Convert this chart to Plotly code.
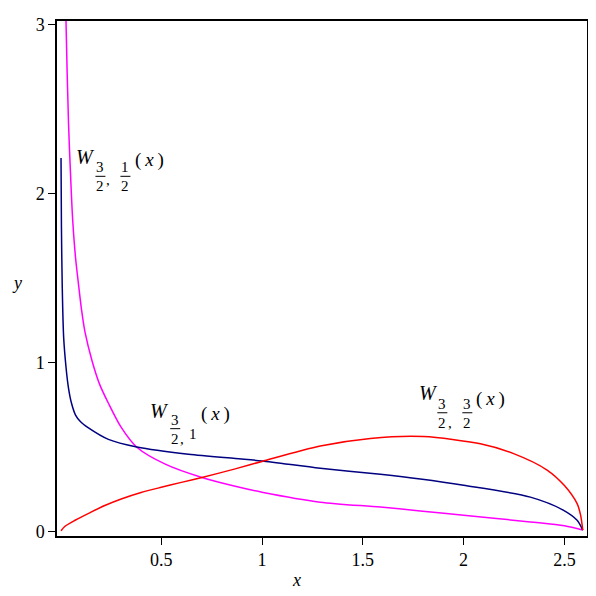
import plotly.graph_objects as go

# values
x_w12 = [0.022, 0.028, 0.04, 0.052, 0.061, 0.075, 0.089, 0.105, 0.122, 0.157, 0.195, 0.238,
         0.3, 0.379, 0.52, 0.702, 0.867, 1.0, 1.289, 1.587, 1.785, 2.0, 2.331, 2.5, 2.591]
y_w12 = [3.5, 3.0, 2.42, 2.06, 1.84, 1.62, 1.47, 1.31, 1.18, 1.01, 0.87, 0.76,
         0.62, 0.50, 0.40, 0.321, 0.269, 0.234, 0.175, 0.146, 0.123, 0.098, 0.058, 0.035, 0.01]

x_w1 = [0.003, 0.005, 0.009, 0.016, 0.028, 0.04, 0.055, 0.075, 0.10, 0.139, 0.238, 0.379, 0.635,
        0.867, 1.0, 1.289, 1.587, 1.785, 2.0, 2.331, 2.496, 2.563, 2.591]
y_w1 = [2.21, 1.8, 1.45, 1.15, 0.97, 0.85, 0.76, 0.69, 0.65, 0.614, 0.546, 0.501, 0.458,
        0.433, 0.419, 0.376, 0.34, 0.312, 0.275, 0.205, 0.127, 0.068, 0.01]

x_w32 = [0.003, 0.02, 0.073, 0.15, 0.22, 0.305, 0.4, 0.5, 0.6, 0.702, 0.867, 1.0, 1.289,
         1.537, 1.8, 2.083, 2.248, 2.414, 2.5, 2.563, 2.58, 2.591]
y_w32 = [0.006, 0.03, 0.068, 0.115, 0.155, 0.195, 0.232, 0.263, 0.292, 0.321, 0.372, 0.416, 0.507,
         0.552, 0.563, 0.52, 0.462, 0.365, 0.273, 0.166, 0.10, 0.01]

x_ticks = [0.5, 1, 1.5, 2, 2.5]
y_ticks = [0, 1, 2, 3]

SERIF = "Liberation Serif"
PAREN_X = "(&#8201;<i>x</i>&#8201;)"

fig = go.Figure()
for xs, ys, col in [(x_w12, y_w12, "#FF00FF"), (x_w1, y_w1, "#000080"), (x_w32, y_w32, "#FF0000")]:
    fig.add_trace(go.Scatter(x=xs, y=ys, mode="lines",
                             line=dict(color=col, width=1.5, shape="spline", smoothing=0.8)))


def txt(x, y, s, dx, dy, size):
    # dx right, dy down, in pixels from the anchor
    fig.add_annotation(x=x, y=y, xref="x", yref="y", text=s, showarrow=False,
                       xanchor="center", yanchor="middle",
                       xshift=dx, yshift=-dy, font=dict(family=SERIF, size=size, color="black"))


def frac(x, y, num, den, dx, dy):
    txt(x, y, num, dx, dy - 9, 15)
    txt(x, y, den, dx, dy + 10, 15)
    fig.add_shape(type="line", xref="x", yref="y", xsizemode="pixel", ysizemode="pixel",
                  xanchor=x, yanchor=y, x0=dx - 5, x1=dx + 5, y0=-dy, y1=-dy,
                  line=dict(color="black", width=1))


# W_{3/2,1/2}(x)
ax, ay = 0.124, 2.214
txt(ax, ay, "<i>W</i>", 0, 0, 20)
frac(ax, ay, "3", "2", 15, 19)
txt(ax, ay, ",", 23, 23, 15)
frac(ax, ay, "1", "2", 40, 19)
txt(ax, ay, PAREN_X, 64, 3, 19)

# W_{3/2,1}(x)
bx, by = 0.49, 0.716
txt(bx, by, "<i>W</i>", 0, 0, 20)
frac(bx, by, "3", "2", 16, 18)
txt(bx, by, ",", 23, 28, 15)
txt(bx, by, "1", 34, 23, 15)
txt(bx, by, PAREN_X, 56, 3, 19)

# W_{3/2,3/2}(x)
cx, cy = 1.825, 0.822
txt(cx, cy, "<i>W</i>", 0, 0, 20)
frac(cx, cy, "3", "2", 14, 20)
txt(cx, cy, ",", 22, 30, 15)
frac(cx, cy, "3", "2", 39, 20)
txt(cx, cy, PAREN_X, 62, 6, 19)

# axis titles
fig.add_annotation(x=1.17, y=-0.0845, xref="x", yref="paper", text="<i>x</i>", showarrow=False,
                   xanchor="center", yanchor="middle",
                   font=dict(family=SERIF, size=18, color="black"))
fig.add_annotation(x=-0.0755, y=1.47, xref="paper", yref="y", text="<i>y</i>", showarrow=False,
                   xanchor="center", yanchor="middle",
                   font=dict(family=SERIF, size=18, color="black"))

axis_style = dict(showgrid=False, zeroline=False, showline=True, linecolor="black", linewidth=1.5,
                  mirror=True, ticks="outside", ticklen=7, tickwidth=1.2, tickcolor="black",
                  tickfont=dict(family=SERIF, size=18, color="black"))

fig.update_xaxes(range=[-0.017, 2.612], tickvals=x_ticks, ticktext=[str(v) for v in x_ticks], **axis_style)
fig.update_yaxes(range=[-0.025, 3.02], tickvals=y_ticks, ticktext=[str(v) for v in y_ticks], **axis_style)

# page body adds an 8px margin, so the figure is 588 square
fig.update_layout(width=588, height=588, showlegend=False,
                  margin=dict(l=49, r=9, t=7, b=60),
                  paper_bgcolor="white", plot_bgcolor="white")

fig.write_html("out.html")
